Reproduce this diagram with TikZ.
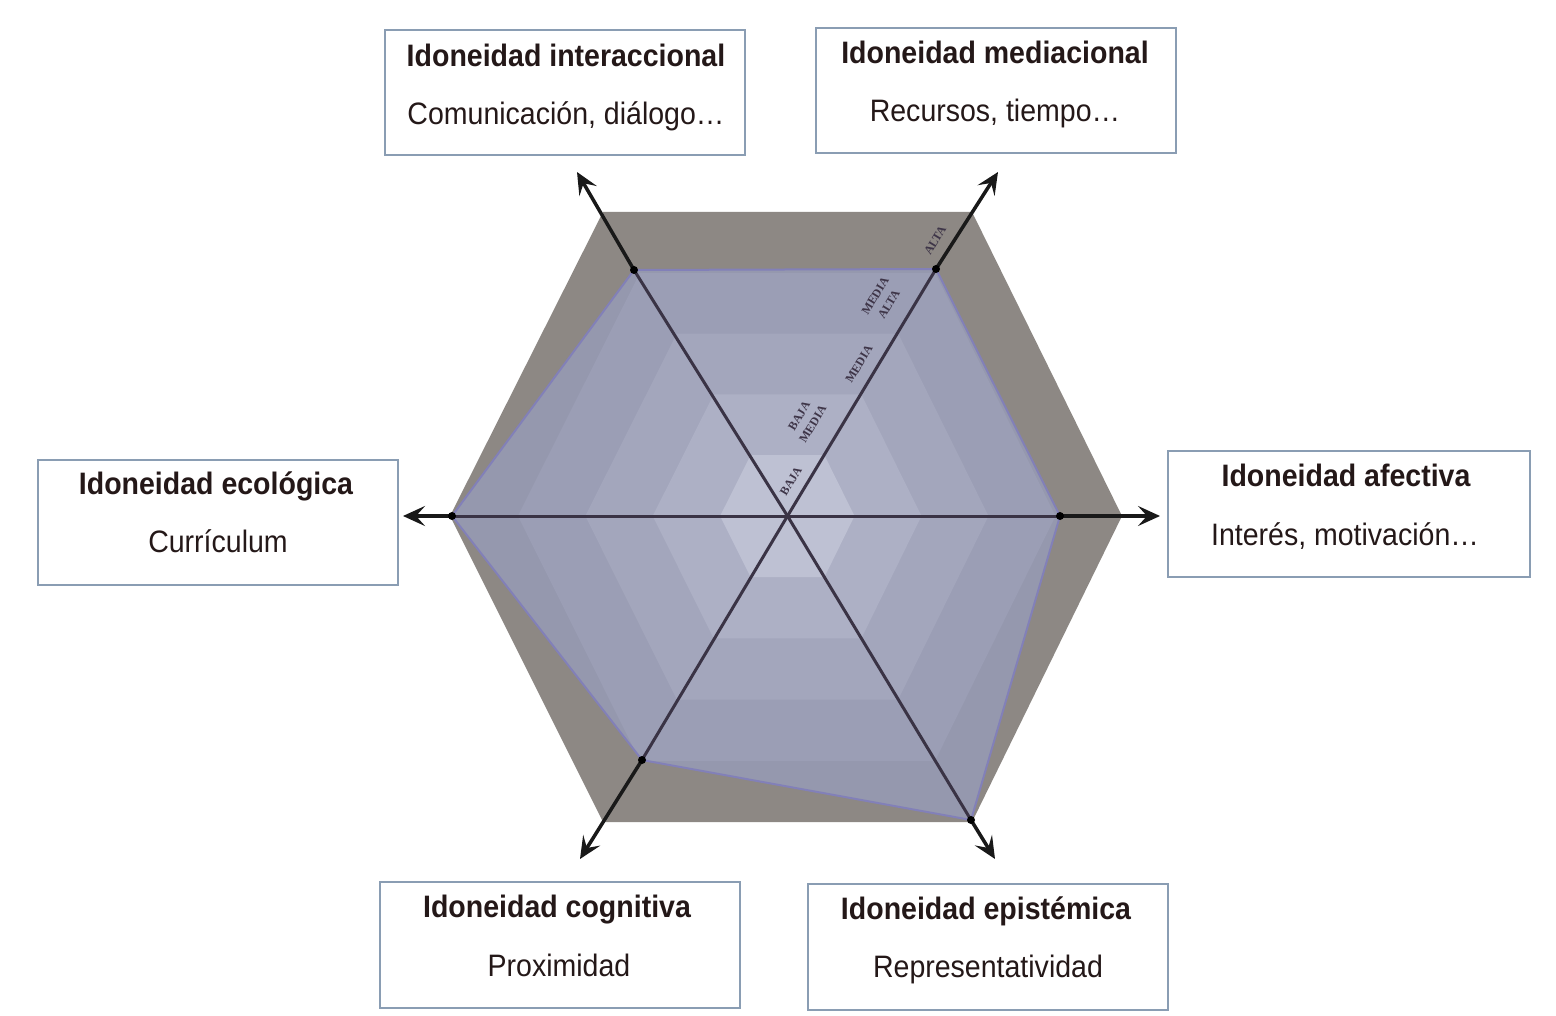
\documentclass[tikz,border=0pt]{standalone}
\usepackage{fontspec}
\setmainfont{Liberation Sans}
\newfontfamily\boxfont[FakeStretch=0.92]{Liberation Sans}
\newfontfamily\lvlfont{Liberation Serif}
\usetikzlibrary{arrows.meta}
\definecolor{outergray}{HTML}{8D8884}
\definecolor{ring5}{HTML}{9598AE}
\definecolor{ring4}{HTML}{9B9EB5}
\definecolor{ring3}{HTML}{A3A6BC}
\definecolor{ring2}{HTML}{ADB0C5}
\definecolor{ring1}{HTML}{BEC1D3}
\definecolor{polyline}{HTML}{8280B8}
\definecolor{axisdark}{HTML}{3A3345}
\definecolor{boxline}{HTML}{8A9DB3}
\definecolor{txtdark}{HTML}{241818}
\definecolor{lvltext}{HTML}{3E3548}
\begin{document}
\begin{tikzpicture}[x=1pt,y=-1pt,
  box/.style={draw=boxline, line width=1.3pt, minimum width=360pt, minimum height=125pt, inner sep=0pt},
  ttl/.style={font=\boxfont\bfseries\fontsize{31}{36}\selectfont, text=txtdark, anchor=base, inner sep=0pt},
  sub/.style={font=\boxfont\fontsize{31}{36}\selectfont, text=txtdark, anchor=base, inner sep=0pt},
  axin/.style={draw=axisdark, line width=3pt},
  axout/.style={draw=black!90, line width=3.5pt, -{Stealth[length=22pt,width=20pt,inset=9pt]}},
  lvl/.style={font=\lvlfont\bfseries\fontsize{12}{16}\selectfont, text=lvltext, rotate=58.7, align=center, inner sep=0pt},
  vdot/.style={circle, fill=black, inner sep=0pt, minimum size=8pt}
]
\useasboundingbox[fill=white] (0,0) rectangle (1556,1016);

% centre and outer hexagon
\coordinate (c) at (787.5,516);
\coordinate (oTL) at (603,212);
\coordinate (oTR) at (972,212);
\coordinate (oR) at (1122,516);
\coordinate (oBR) at (972,822);
\coordinate (oBL) at (603,822);
\coordinate (oL) at (450,516);
% evaluation polygon
\coordinate (pTL) at (634,270);
\coordinate (pTR) at (936,269);
\coordinate (pR) at (1060,516);
\coordinate (pBR) at (971,820);
\coordinate (pBL) at (642,760);
\coordinate (pL) at (452,516);
% arrow tips
\coordinate (tTL) at (577,172);
\coordinate (tTR) at (998,172);
\coordinate (tR) at (1160,516);
\coordinate (tBR) at (995,859);
\coordinate (tBL) at (580,859);
\coordinate (tL) at (403,516);

\fill[outergray] (oTL) -- (oTR) -- (oR) -- (oBR) -- (oBL) -- (oL) -- cycle;

\begin{scope}
  \clip (pTL) -- (pTR) -- (pR) -- (pBR) -- (pBL) -- (pL) -- cycle;
  \begin{scope}[shift={(787.5,516)}]
    \foreach \k/\col in {1/ring5,0.8/ring4,0.6/ring3,0.4/ring2,0.2/ring1}
      \fill[\col] ({-184.5*\k},{-304*\k}) -- ({184.5*\k},{-304*\k}) -- ({335*\k},0)
        -- ({184.5*\k},{306*\k}) -- ({-184.5*\k},{306*\k}) -- ({-337*\k},0) -- cycle;
  \end{scope}
\end{scope}
\draw[polyline, line width=2pt, line join=round] (pTL) -- (pTR) -- (pR) -- (pBR) -- (pBL) -- (pL) -- cycle;

% axes
\foreach \p in {pTL,pTR,pR,pBR,pBL,pL} \draw[axin] (c) -- (\p);
\draw[axout] (pTL) -- (tTL);
\draw[axout] (pTR) -- (tTR);
\draw[axout] (pR) -- (tR);
\draw[axout] (pBR) -- (tBR);
\draw[axout] (pBL) -- (tBL);
\draw[axout] (pL) -- (tL);
\foreach \p in {pTL,pTR,pR,pBR,pBL,pL} \node[vdot] at (\p) {};

% level labels
\node[lvl] (l1) at (791,481) {BAJA};
\node[lvl] (l2) at (806,420) {BAJA\\MEDIA};
\node[lvl] (l3) at (859,364) {MEDIA};
\node[lvl] (l4) at (882,300) {MEDIA\\ALTA};
\node[lvl] (l5) at (935,240) {ALTA};

% boxes
\node[box] (bInt) at (565,92.5) {};
\node[ttl] (tInt) at (566,66.5) {Idoneidad interaccional};
\node[sub] (sInt) at (566,124.5) {Comunicación, diálogo…};

\node[box] (bMed) at (996,90.5) {};
\node[ttl] (tMed) at (995,63.5) {Idoneidad mediacional};
\node[sub] (sMed) at (995,121.5) {Recursos, tiempo…};

\node[box] (bEco) at (218,522.5) {};
\node[ttl] (tEco) at (216,494.5) {Idoneidad ecológica};
\node[sub] (sEco) at (218,552.5) {Currículum};

\node[box, minimum width=362pt, minimum height=126pt] (bAfe) at (1349,514) {};
\node[ttl] (tAfe) at (1346,486.5) {Idoneidad afectiva};
\node[sub] (sAfe) at (1345,545.5) {Interés, motivación…};

\node[box, minimum height=126pt] (bCog) at (560,945) {};
\node[ttl] (tCog) at (557,917.5) {Idoneidad cognitiva};
\node[sub] (sCog) at (559,976.5) {Proximidad};

\node[box, minimum height=126pt] (bEpi) at (988,947) {};
\node[ttl] (tEpi) at (986,919.5) {Idoneidad epistémica};
\node[sub] (sEpi) at (988,977.5) {Representatividad};
\end{tikzpicture}
\end{document}
